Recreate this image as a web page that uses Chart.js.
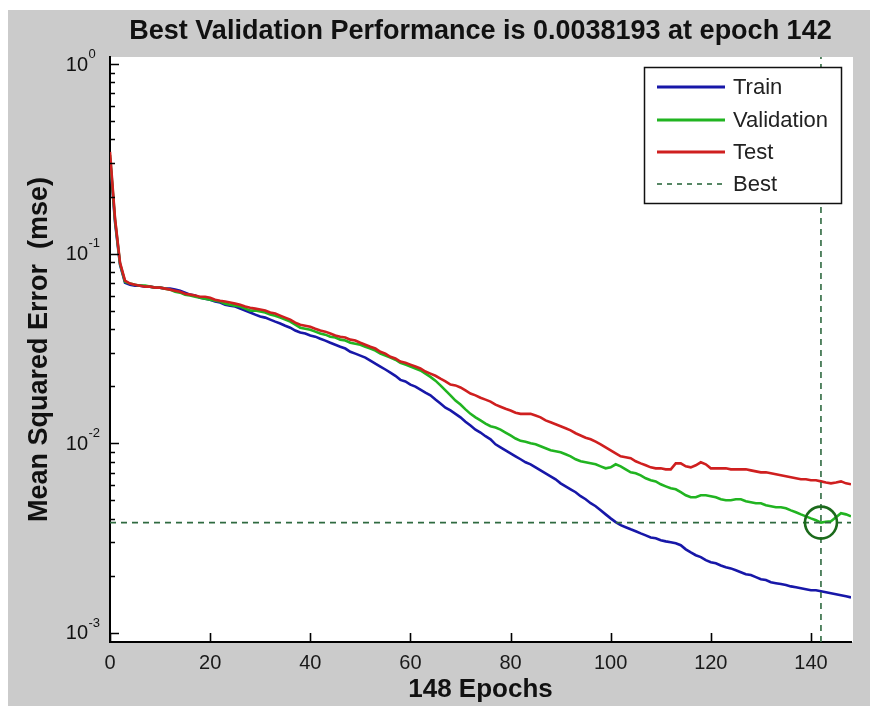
<!DOCTYPE html>
<html>
<head>
<meta charset="utf-8">
<script src="https://cdn.jsdelivr.net/npm/chart.js@4.4.1/dist/chart.umd.min.js"></script>
<style>
  html, body { margin: 0; padding: 0; background: #ffffff; }
  canvas { display: block; }
</style>
</head>
<body>
<canvas id="c" width="870" height="706"></canvas>
<script>
// ---------------- DATA ----------------
const epochs = Array.from({ length: 149 }, (_, i) => i);

const trainMSE = [
  0.318, 0.147, 0.0875, 0.0703, 0.0686, 0.0678, 0.0678, 0.0670, 0.0670, 0.0662,
  0.0662, 0.0654, 0.0654, 0.0646, 0.0638, 0.0623, 0.0608, 0.0601, 0.0586, 0.0579,
  0.0572, 0.0559, 0.0552, 0.0538, 0.0532, 0.0526, 0.0513, 0.0501, 0.0489, 0.0477,
  0.0466, 0.0460, 0.0449, 0.0438, 0.0428, 0.0417, 0.0407, 0.0393, 0.0384, 0.0379,
  0.0370, 0.0365, 0.0356, 0.0348, 0.0339, 0.0331, 0.0323, 0.0316, 0.0304, 0.0297,
  0.0290, 0.0283, 0.0273, 0.0263, 0.0254, 0.0245, 0.0236, 0.0227, 0.0216, 0.0212,
  0.0204, 0.0199, 0.0192, 0.0185, 0.0179, 0.0170, 0.0162, 0.0154, 0.0149, 0.0143,
  0.0137, 0.0130, 0.0124, 0.0118, 0.0114, 0.0109, 0.0105, 0.00988, 0.00953, 0.00919,
  0.00886, 0.00854, 0.00824, 0.00794, 0.00775, 0.00747, 0.00720, 0.00695, 0.00670, 0.00646,
  0.00615, 0.00593, 0.00572, 0.00552, 0.00526, 0.00507, 0.00483, 0.00466, 0.00443, 0.00422,
  0.00402, 0.00384, 0.00370, 0.00361, 0.00352, 0.00344, 0.00335, 0.00327, 0.00319, 0.00316,
  0.00308, 0.00304, 0.00301, 0.00297, 0.00290, 0.00276, 0.00266, 0.00257, 0.00251, 0.00242,
  0.00236, 0.00233, 0.00227, 0.00222, 0.00219, 0.00214, 0.00209, 0.00204, 0.00202, 0.00197,
  0.00192, 0.00190, 0.00185, 0.00183, 0.00181, 0.00179, 0.00176, 0.00174, 0.00172, 0.00170,
  0.00168, 0.00168, 0.00166, 0.00164, 0.00162, 0.00160, 0.00158, 0.00156, 0.00154
];

const validationMSE = [
  0.331, 0.151, 0.0886, 0.0711, 0.0695, 0.0686, 0.0678, 0.0678, 0.0670, 0.0662,
  0.0662, 0.0654, 0.0646, 0.0630, 0.0623, 0.0608, 0.0601, 0.0593, 0.0586, 0.0579,
  0.0572, 0.0565, 0.0559, 0.0545, 0.0538, 0.0532, 0.0526, 0.0513, 0.0501, 0.0501,
  0.0495, 0.0489, 0.0477, 0.0471, 0.0460, 0.0449, 0.0438, 0.0422, 0.0407, 0.0402,
  0.0397, 0.0388, 0.0379, 0.0374, 0.0365, 0.0361, 0.0352, 0.0348, 0.0339, 0.0335,
  0.0331, 0.0323, 0.0316, 0.0308, 0.0297, 0.0290, 0.0283, 0.0276, 0.0266, 0.0260,
  0.0254, 0.0248, 0.0242, 0.0233, 0.0224, 0.0214, 0.0202, 0.0190, 0.0179, 0.0168,
  0.0160, 0.0151, 0.0143, 0.0137, 0.0132, 0.0127, 0.0123, 0.0121, 0.0118, 0.0114,
  0.0110, 0.0106, 0.0103, 0.0102, 0.0100, 0.00988, 0.00964, 0.00941, 0.00919, 0.00908,
  0.00897, 0.00875, 0.00854, 0.00824, 0.00804, 0.00794, 0.00784, 0.00775, 0.00756, 0.00738,
  0.00747, 0.00775, 0.00756, 0.00729, 0.00703, 0.00695, 0.00678, 0.00654, 0.00638, 0.00630,
  0.00608, 0.00593, 0.00579, 0.00572, 0.00552, 0.00532, 0.00519, 0.00519, 0.00532, 0.00532,
  0.00526, 0.00519, 0.00507, 0.00501, 0.00501, 0.00507, 0.00507, 0.00495, 0.00489, 0.00483,
  0.00483, 0.00471, 0.00466, 0.00460, 0.00460, 0.00454, 0.00443, 0.00433, 0.00422, 0.00412,
  0.00402, 0.00393, 0.0038193, 0.00386, 0.00388, 0.00407, 0.00428, 0.00422, 0.00412
];

const testMSE = [
  0.344, 0.154, 0.0897, 0.0720, 0.0695, 0.0686, 0.0678, 0.0670, 0.0670, 0.0662,
  0.0662, 0.0654, 0.0646, 0.0638, 0.0630, 0.0615, 0.0608, 0.0601, 0.0593, 0.0593,
  0.0586, 0.0572, 0.0565, 0.0559, 0.0552, 0.0545, 0.0538, 0.0526, 0.0519, 0.0513,
  0.0507, 0.0501, 0.0489, 0.0483, 0.0471, 0.0460, 0.0449, 0.0433, 0.0422, 0.0417,
  0.0412, 0.0402, 0.0393, 0.0388, 0.0379, 0.0370, 0.0365, 0.0361, 0.0352, 0.0348,
  0.0339, 0.0331, 0.0323, 0.0316, 0.0304, 0.0297, 0.0286, 0.0280, 0.0270, 0.0266,
  0.0260, 0.0254, 0.0248, 0.0239, 0.0233, 0.0227, 0.0219, 0.0212, 0.0204, 0.0202,
  0.0197, 0.0190, 0.0183, 0.0179, 0.0174, 0.0170, 0.0166, 0.0160, 0.0156, 0.0152,
  0.0149, 0.0145, 0.0143, 0.0143, 0.0143, 0.0140, 0.0137, 0.0132, 0.0129, 0.0126,
  0.0123, 0.0120, 0.0117, 0.0113, 0.0110, 0.0107, 0.0105, 0.0102, 0.00988, 0.00953,
  0.00919, 0.00886, 0.00854, 0.00844, 0.00834, 0.00804, 0.00784, 0.00766, 0.00747, 0.00738,
  0.00738, 0.00729, 0.00729, 0.00784, 0.00784, 0.00756, 0.00747, 0.00766, 0.00794, 0.00775,
  0.00738, 0.00738, 0.00738, 0.00738, 0.00729, 0.00729, 0.00729, 0.00729, 0.00720, 0.00711,
  0.00703, 0.00703, 0.00695, 0.00686, 0.00678, 0.00670, 0.00662, 0.00654, 0.00646, 0.00646,
  0.00638, 0.00638, 0.00630, 0.00622, 0.00615, 0.00622, 0.00630, 0.00615, 0.00608
];

const bestEpoch = 142;
const bestPerf = 0.0038193;

const xTicks = [0, 20, 40, 60, 80, 100, 120, 140];
const xMin = 0, xMax = 148;
const yTicks = [0.001, 0.01, 0.1, 1];
const yTickBase = '10';
const yTickExponents = ['-3', '-2', '-1', '0'];
const yMin = 0.000896, yMax = 1.0887;

const legendLabels = ['Train', 'Validation', 'Test', 'Best'];
const titleText = 'Best Validation Performance is 0.0038193 at epoch 142';
const xTitle = '148 Epochs';
const yTitle = 'Mean Squared Error  (mse)';

// ---------------- STYLE ----------------
const FONT = "'Liberation Sans', Arial, Helvetica, sans-serif";
const C_TRAIN = '#1717a8';
const C_VAL = '#21b421';
const C_TEST = '#cf1f1f';
const C_BEST = '#2f6a40';
const C_CIRCLE = '#1b6a1b';
const BG = '#cbcbcb';

const pts = (arr) => epochs.map((e, i) => ({ x: e, y: arr[i] }));

const bgPlugin = {
  id: 'bg',
  beforeDraw(chart) {
    const { ctx, chartArea: a } = chart;
    ctx.save();
    ctx.fillStyle = '#ffffff';
    ctx.fillRect(0, 0, chart.width, chart.height);
    ctx.fillStyle = BG;
    ctx.fillRect(8, 10, chart.width - 8, chart.height - 10);
    ctx.fillStyle = '#ffffff';
    ctx.fillRect(a.left, a.top, a.right - a.left + 2, a.bottom - a.top);
    ctx.restore();
  }
};

const decorPlugin = {
  id: 'decor',
  afterDatasetsDraw(chart) {
    const { ctx, chartArea: a, scales } = chart;
    const xs = scales.x, ys = scales.y;
    ctx.save();
    ctx.strokeStyle = '#000';
    ctx.lineWidth = 1.6;
    ctx.beginPath();
    yTicks.forEach(v => {
      const py = Math.round(ys.getPixelForValue(v)) + 0.5;
      ctx.moveTo(a.left, py); ctx.lineTo(a.left + 9, py);
    });
    for (let d = -3; d < 0; d++) {
      for (let k = 2; k <= 9; k++) {
        const py = Math.round(ys.getPixelForValue(k * Math.pow(10, d))) + 0.5;
        ctx.moveTo(a.left, py); ctx.lineTo(a.left + 5, py);
      }
    }
    xTicks.forEach(v => {
      const px = Math.round(xs.getPixelForValue(v)) + 0.5;
      ctx.moveTo(px, a.bottom); ctx.lineTo(px, a.bottom - 9);
    });
    ctx.stroke();

    // legend box
    const lx = 644, ly = 67, lw = 197, lh = 136;
    ctx.fillStyle = '#ffffff';
    ctx.fillRect(lx, ly, lw, lh);
    ctx.lineWidth = 1.5;
    ctx.strokeStyle = '#111';
    ctx.strokeRect(lx + 0.5, ly + 0.5, lw, lh);
    const rows = [87, 120, 152, 184];
    const cols = [C_TRAIN, C_VAL, C_TEST, C_BEST];
    ctx.font = '22px ' + FONT;
    ctx.textBaseline = 'middle';
    ctx.textAlign = 'left';
    legendLabels.forEach((lab, i) => {
      ctx.beginPath();
      ctx.strokeStyle = cols[i];
      if (i === 3) { ctx.setLineDash([5, 5]); ctx.lineWidth = 1.6; }
      else { ctx.setLineDash([]); ctx.lineWidth = 2.8; }
      ctx.moveTo(657, rows[i]); ctx.lineTo(725, rows[i]);
      ctx.stroke();
      ctx.setLineDash([]);
      ctx.fillStyle = '#222';
      ctx.fillText(lab, 733, rows[i] + 1);
    });
    ctx.restore();
  },
  afterDraw(chart) {
    const { ctx, chartArea: a, scales } = chart;
    const ys = scales.y;
    ctx.save();
    ctx.fillStyle = '#111';
    ctx.textBaseline = 'middle';
    yTicks.forEach((v, i) => {
      const py = ys.getPixelForValue(v);
      ctx.font = '20px ' + FONT;
      ctx.textAlign = 'right';
      ctx.fillText(yTickBase, 88, py + 1);
      ctx.font = '13px ' + FONT;
      ctx.textAlign = 'left';
      ctx.fillText(yTickExponents[i], 88.5, py - 10);
    });
    ctx.textAlign = 'center';
    ctx.font = 'bold 27px ' + FONT;
    ctx.fillText(titleText, (a.left + a.right) / 2, 32);
    ctx.font = 'bold 26px ' + FONT;
    ctx.fillText(xTitle, (a.left + a.right) / 2, 690);
    ctx.font = 'bold 27px ' + FONT;
    ctx.translate(40, (a.top + a.bottom) / 2);
    ctx.rotate(-Math.PI / 2);
    ctx.fillText(yTitle, 0, 0);
    ctx.restore();
  }
};

new Chart(document.getElementById('c'), {
  type: 'line',
  data: {
    datasets: [
      { label: 'BestPoint', data: [{ x: bestEpoch, y: bestPerf }], showLine: false,
        pointRadius: 16, pointHoverRadius: 16, pointBorderWidth: 2.6,
        pointBorderColor: C_CIRCLE, pointBackgroundColor: 'rgba(0,0,0,0)' },
      { label: 'BestH', data: [{ x: xMin, y: bestPerf }, { x: xMax, y: bestPerf }],
        borderColor: C_BEST, borderWidth: 1.6, borderDash: [6, 5], pointRadius: 0 },
      { label: 'BestV', data: [{ x: bestEpoch, y: yMin }, { x: bestEpoch, y: yMax }],
        borderColor: C_BEST, borderWidth: 1.6, borderDash: [6, 5], pointRadius: 0 },
      { label: legendLabels[2], data: pts(testMSE), borderColor: C_TEST, borderWidth: 2.6, pointRadius: 0 },
      { label: legendLabels[1], data: pts(validationMSE), borderColor: C_VAL, borderWidth: 2.6, pointRadius: 0 },
      { label: legendLabels[0], data: pts(trainMSE), borderColor: C_TRAIN, borderWidth: 2.6, pointRadius: 0 }
    ]
  },
  options: {
    responsive: false,
    animation: false,
    events: [],
    layout: { padding: { left: 0, top: 57, right: 19, bottom: 0 } },
    plugins: { legend: { display: false }, tooltip: { enabled: false }, title: { display: false } },
    elements: { line: { tension: 0, fill: false } },
    scales: {
      x: {
        type: 'linear', min: xMin, max: xMax,
        afterBuildTicks: (s) => { s.ticks = xTicks.map(v => ({ value: v })); },
        afterFit: (s) => { s.height = 64; },
        grid: { display: false, drawTicks: false },
        border: { display: true, color: '#000', width: 2 },
        ticks: { color: '#1a1a1a', font: { family: FONT, size: 20 }, padding: 9, maxRotation: 0, autoSkip: false }
      },
      y: {
        type: 'logarithmic', min: yMin, max: yMax,
        afterBuildTicks: (s) => { s.ticks = yTicks.map(v => ({ value: v })); },
        afterFit: (s) => { s.width = 110; },
        grid: { display: false, drawTicks: false },
        border: { display: true, color: '#000', width: 2 },
        ticks: { display: false }
      }
    }
  },
  plugins: [bgPlugin, decorPlugin]
});
</script>
</body>
</html>
